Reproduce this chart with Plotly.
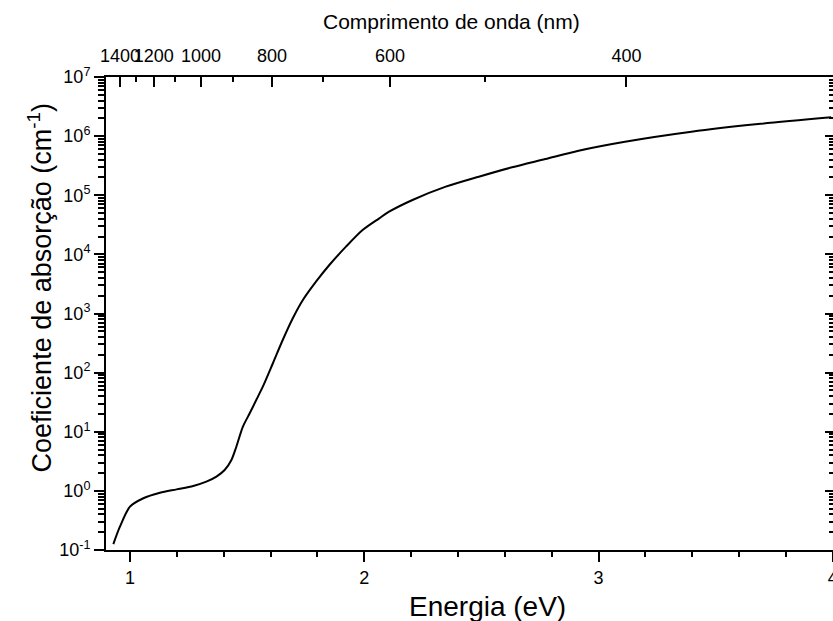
import plotly.graph_objects as go

# ---- data ----
energia_ev = [0.929, 0.957, 1.000, 1.057, 1.128, 1.199, 1.270, 1.326, 1.369, 1.404,
              1.433, 1.454, 1.482, 1.511, 1.539, 1.567, 1.610, 1.652, 1.695, 1.738,
              1.794, 1.851, 1.922, 1.993, 2.064, 2.106, 2.206, 2.348, 2.489, 2.631,
              2.773, 2.915, 3.113, 3.397, 3.681, 3.993]
alfa_cm = [0.126, 0.248, 0.54, 0.75, 0.93, 1.06, 1.21, 1.43, 1.74, 2.25,
           3.33, 5.58, 12.2, 20.5, 34.4, 57.8, 144, 356, 830, 1690,
           3450, 6610, 13500, 25800, 40700, 52700, 83200, 139600, 206000, 297000,
           410000, 568000, 805000, 1190000, 1600000, 2080000]

y_decades = [-1, 0, 1, 2, 3, 4, 5, 6, 7]
x_major = [1, 2, 3, 4]
x_minor = [1.2, 1.4, 1.6, 1.8, 2.2, 2.4, 2.6, 2.8, 3.2, 3.4, 3.6, 3.8]
wl_major = [1400, 1200, 1000, 800, 600, 400]
wl_minor = [1300, 1100, 900, 700, 500]

# top-axis calibration as drawn in the reference (energy position = K / lambda + C)
K_TOP = 1210.6
C_TOP = 0.0926

X_RANGE = [0.8976, 4.001]
Y_RANGE = [-1, 7]

FONT = "Liberation Sans, Arial, Helvetica, sans-serif"


def wl_pos(wl):
    return K_TOP / wl + C_TOP


y_tickvals = [10.0 ** p for p in y_decades]
y_ticktext = ["10<sup>%d</sup>" % p for p in y_decades]
y_minor = [m * 10.0 ** p for p in y_decades[:-1] for m in range(2, 10)]

fig = go.Figure()
fig.add_trace(go.Scatter(x=energia_ev, y=alfa_cm, mode="lines",
                         line=dict(color="black", width=2, shape="spline", smoothing=0.8),
                         showlegend=False, hoverinfo="x+y"))
# invisible copy so the top / right axes get drawn
fig.add_trace(go.Scatter(x=energia_ev, y=alfa_cm, mode="lines", xaxis="x2", yaxis="y2",
                         line=dict(color="rgba(0,0,0,0)", width=0),
                         showlegend=False, hoverinfo="skip"))

tickfont = dict(family=FONT, size=18, color="black")

fig.update_layout(
    width=833, height=621,
    margin=dict(l=106, r=0, t=77, b=71, pad=0, autoexpand=False),
    paper_bgcolor="white", plot_bgcolor="white",
    font=dict(family=FONT, color="black"),
    xaxis=dict(
        range=X_RANGE, showgrid=False, zeroline=False, automargin=False,
        showline=True, linecolor="black", linewidth=2,
        tickmode="array", tickvals=x_major, ticktext=[str(v) for v in x_major],
        ticks="outside", ticklen=10, tickwidth=1.5, tickcolor="black",
        tickfont=tickfont, tickangle=0, ticklabeloverflow="allow",
        minor=dict(tickmode="array", tickvals=x_minor, ticks="outside",
                   ticklen=5, tickwidth=1.5, tickcolor="black"),
    ),
    xaxis2=dict(
        range=X_RANGE, overlaying="x", side="top", anchor="y", automargin=False,
        showgrid=False, zeroline=False,
        showline=True, linecolor="black", linewidth=2,
        tickmode="array", tickvals=[wl_pos(w) for w in wl_major],
        ticktext=[str(w) for w in wl_major],
        ticks="inside", ticklen=10, tickwidth=1.5, tickcolor="black",
        tickfont=tickfont, tickangle=0, ticklabelstandoff=6,
        minor=dict(tickmode="array", tickvals=[wl_pos(w) for w in wl_minor],
                   ticks="inside", ticklen=5, tickwidth=1.5, tickcolor="black"),
    ),
    yaxis=dict(
        type="log", range=Y_RANGE, showgrid=False, zeroline=False, automargin=False,
        showline=True, linecolor="black", linewidth=2,
        tickmode="array", tickvals=y_tickvals, ticktext=y_ticktext,
        ticks="outside", ticklen=10, tickwidth=1.5, tickcolor="black",
        tickfont=tickfont,
        minor=dict(tickmode="array", tickvals=y_minor, ticks="outside",
                   ticklen=6, tickwidth=1.5, tickcolor="black"),
    ),
    yaxis2=dict(
        type="log", range=Y_RANGE, overlaying="y", side="right", anchor="x",
        automargin=False,
        showgrid=False, zeroline=False, showline=False,
        tickmode="array", tickvals=y_tickvals, showticklabels=False,
        ticks="inside", ticklen=8, tickwidth=1.5, tickcolor="black",
        minor=dict(tickmode="array", tickvals=y_minor, ticks="inside",
                   ticklen=4, tickwidth=1.5, tickcolor="black"),
    ),
    annotations=[
        dict(text="Energia (eV)", xref="paper", yref="paper", x=0.525, y=0,
             xanchor="center", yanchor="middle", yshift=-56, showarrow=False,
             font=dict(family=FONT, size=28, color="black")),
        dict(text="Comprimento de onda (nm)", xref="paper", yref="paper", x=0.4746, y=1,
             xanchor="center", yanchor="middle", yshift=56, showarrow=False,
             font=dict(family=FONT, size=21, color="black")),
        dict(text="Coeficiente de absorção (cm<sup>-1</sup>)", xref="paper", yref="paper",
             x=0, y=0.553, xanchor="center", yanchor="middle", xshift=-66, textangle=-90,
             showarrow=False, font=dict(family=FONT, size=27, color="black")),
    ],
)

fig.write_html("out.html")
